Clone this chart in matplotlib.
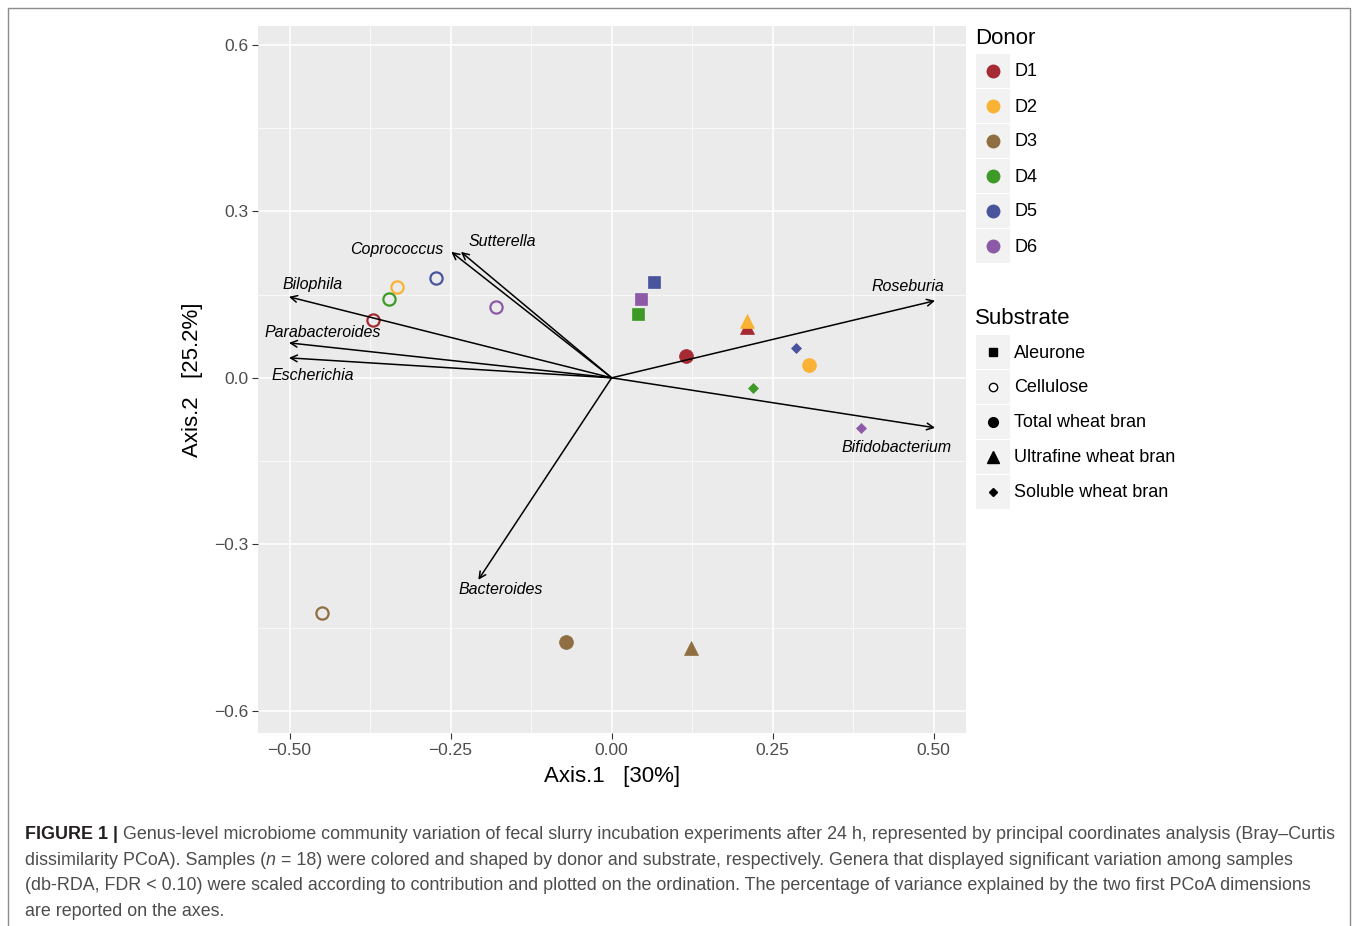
import matplotlib
matplotlib.use("Agg")
from matplotlib import pyplot as plt
from matplotlib.lines import Line2D
from matplotlib.patches import Rectangle

plt.rcParams['font.family'] = ['Liberation Sans', 'DejaVu Sans']

# ---- data ----
donors = ['D1', 'D2', 'D3', 'D4', 'D5', 'D6']
donor_colors = ['#A52A33', '#F9B233', '#8F6E42', '#3E9A26', '#4A549D', '#8C5AA6']
substrates = ['Aleurone', 'Cellulose', 'Total wheat bran', 'Ultrafine wheat bran', 'Soluble wheat bran']

sample_donor = ['D1', 'D1', 'D1', 'D2', 'D2', 'D2', 'D3', 'D3', 'D3',
                'D4', 'D4', 'D4', 'D5', 'D5', 'D5', 'D6', 'D6', 'D6']
sample_substrate = ['Cellulose', 'Total wheat bran', 'Ultrafine wheat bran',
                    'Cellulose', 'Total wheat bran', 'Ultrafine wheat bran',
                    'Cellulose', 'Total wheat bran', 'Ultrafine wheat bran',
                    'Cellulose', 'Aleurone', 'Soluble wheat bran',
                    'Cellulose', 'Aleurone', 'Soluble wheat bran',
                    'Cellulose', 'Aleurone', 'Soluble wheat bran']
axis1 = [-0.371, 0.115, 0.210, -0.333, 0.306, 0.210, -0.450, -0.071, 0.123,
         -0.346, 0.041, 0.219, -0.273, 0.066, 0.286, -0.180, 0.045, 0.387]
axis2 = [0.105, 0.040, 0.092, 0.164, 0.023, 0.103, -0.423, -0.476, -0.486,
         0.142, 0.115, -0.018, 0.180, 0.173, 0.054, 0.128, 0.142, -0.090]

genera = ['Roseburia', 'Bifidobacterium', 'Bacteroides', 'Escherichia',
          'Parabacteroides', 'Bilophila', 'Coprococcus', 'Sutterella']
genus_x = [0.502, 0.502, -0.207, -0.501, -0.501, -0.501, -0.249, -0.234]
genus_y = [0.139, -0.090, -0.364, 0.036, 0.063, 0.146, 0.227, 0.227]

x_ticks = [-0.50, -0.25, 0.00, 0.25, 0.50]
y_ticks = [-0.6, -0.3, 0.0, 0.3, 0.6]

# ---- styles ----
W, H = 1357, 926
marker_of = {'Aleurone': 's', 'Cellulose': 'o', 'Total wheat bran': 'o',
             'Ultrafine wheat bran': '^', 'Soluble wheat bran': 'D'}
size_of = {'Aleurone': 8, 'Cellulose': 8.8, 'Total wheat bran': 10,
           'Ultrafine wheat bran': 10.5, 'Soluble wheat bran': 5.5}
# label offsets (data units) relative to arrow tip
label_off = [(-0.043, 0.025), (-0.060, -0.036), (0.034, -0.018), (0.037, -0.032),
             (0.053, 0.018), (0.036, 0.022), (-0.084, 0.005), (0.064, 0.018)]


def fx(px):
    return px / W


def fy(py):
    return 1 - py / H


fig = plt.figure(figsize=(W / 100, H / 100), dpi=100)
ax = fig.add_axes([fx(258), fy(733), fx(966) - fx(258), fy(26) - fy(733)])
ax.set_facecolor('#EBEBEB')
for s in ax.spines.values():
    s.set_visible(False)

ax.set_xlim(-0.549, 0.550)
ax.set_ylim(-0.640, 0.634)
ax.set_xticks(x_ticks)
ax.set_xticklabels(['\u2212%.2f' % -v if v < 0 else '%.2f' % v for v in x_ticks])
ax.set_yticks(y_ticks)
ax.set_yticklabels(['\u2212%.1f' % -v if v < 0 else '%.1f' % v for v in y_ticks])
ax.set_xticks([-0.375, -0.125, 0.125, 0.375], minor=True)
ax.set_yticks([-0.45, -0.15, 0.15, 0.45], minor=True)
ax.tick_params(which='major', length=4, width=0.8, color='#333333',
               labelcolor='#4D4D4D', labelsize=12.5, pad=3)
ax.tick_params(which='minor', length=0)
ax.grid(which='major', color='white', lw=1.1)
ax.grid(which='minor', color='white', lw=0.5)
ax.set_axisbelow(True)

ax.set_xlabel('Axis.1   [30%]', fontsize=16, labelpad=6)
ax.set_ylabel('Axis.2   [25.2%]', fontsize=16, labelpad=8)

# arrows
for g, gx, gy, off in zip(genera, genus_x, genus_y, label_off):
    ax.annotate('', xy=(gx, gy), xytext=(0, 0),
                arrowprops=dict(arrowstyle='->', lw=1.1, color='black',
                                mutation_scale=12, shrinkA=0, shrinkB=0))
    ax.text(gx + off[0], gy + off[1], g, fontsize=11.5, style='italic',
            ha='center', va='center', color='black')

# samples
for d, s, x, y in zip(sample_donor, sample_substrate, axis1, axis2):
    c = donor_colors[donors.index(d)]
    if s == 'Cellulose':
        ax.plot(x, y, marker='o', ms=size_of[s], mfc='none', mec=c, mew=1.6, ls='none')
    else:
        ax.plot(x, y, marker=marker_of[s], ms=size_of[s], mfc=c, mec=c, mew=0.5, ls='none')

# ---- legends ----
def legend_block(title, title_y, row0, labels, handles):
    fig.text(fx(975), fy(title_y), title, fontsize=16, va='center', ha='left')
    for i, (lab, h) in enumerate(zip(labels, handles)):
        cy = row0 + 35 * i
        fig.patches.append(Rectangle((fx(976), fy(cy + 17)), fx(34), 34 / H,
                                     transform=fig.transFigure, color='#F2F2F2', lw=0))
        mk, ms, mfc, mec = h
        fig.add_artist(Line2D([fx(993)], [fy(cy)], marker=mk, ms=ms, mfc=mfc, mec=mec,
                              mew=1.0, ls='none', transform=fig.transFigure))
        fig.text(fx(1014), fy(cy + 1), lab, fontsize=13, va='center', ha='left')


legend_block('Donor', 38, 71, donors,
             [('o', 9, c, c) for c in donor_colors])
sub_handles = []
for s in substrates:
    if s == 'Cellulose':
        sub_handles.append(('o', 6, 'white', 'black'))
    else:
        sub_handles.append((marker_of[s], {'s': 6, 'o': 7, '^': 8, 'D': 4.5}[marker_of[s]],
                            'black', 'black'))
legend_block('Substrate', 319, 352, substrates, sub_handles)

# ---- frame and caption ----
fig.patches.append(Rectangle((fx(8), -0.01), fx(1342), fy(8) + 0.01,
                             transform=fig.transFigure, fill=False, ec='#8C8C8C', lw=1))

cap_size = 12.85
renderer = fig.canvas.get_renderer()


def caption_line(py, segments):
    x = fx(25)
    for txt, kw in segments:
        style = dict(fontsize=cap_size, va='baseline', color='#4D4D4D')
        style.update(kw)
        t = fig.text(x, fy(py), txt, **style)
        x += t.get_window_extent(renderer).width / W


caption_line(839, [('FIGURE 1 | ', dict(weight='bold', color='#231F20')),
                   ('Genus-level microbiome community variation of fecal slurry incubation experiments '
                    'after 24 h, represented by principal coordinates analysis (Bray\u2013Curtis', {})])
caption_line(865, [('dissimilarity PCoA). Samples (', {}), ('n', dict(style='italic')),
                   (' = 18) were colored and shaped by donor and substrate, respectively. Genera that '
                    'displayed significant variation among samples', {})])
caption_line(890, [('(db-RDA, FDR < 0.10) were scaled according to contribution and plotted on the '
                    'ordination. The percentage of variance explained by the two first PCoA dimensions', {})])
caption_line(916, [('are reported on the axes.', {})])

fig.savefig('out.png', dpi=100)
